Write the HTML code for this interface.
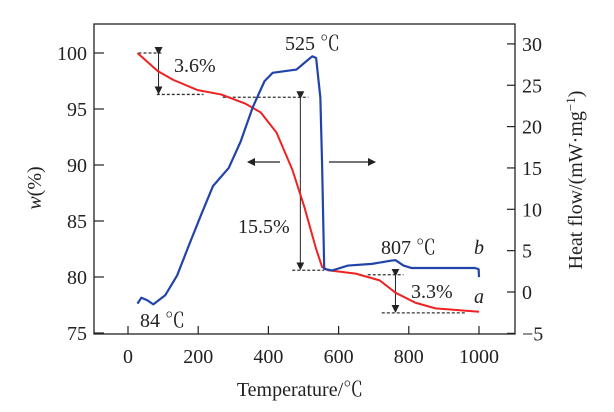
<!DOCTYPE html>
<html><head><meta charset="utf-8"><style>
body{margin:0;background:#fff}
svg text{font-family:"Liberation Serif","Noto Serif CJK SC",serif;fill:#222}
</style></head><body>
<svg width="614" height="407" viewBox="0 0 614 407">
<g id="g"></g>
</svg>
<script>
const temps=[27,84,129,197,265,333,378,423,468,502,536,553,570,649,717,762,819,876,1000];
const weight=[100,98.4,97.6,96.7,96.3,95.5,94.7,92.9,89.6,86.3,82.5,80.9,80.6,80.3,79.7,78.6,77.7,77.2,76.9];
const hfTemps=[27,38,55,72,106,140,174,208,242,287,321,355,389,412,446,480,508,525,536,548,553,559,581,627,695,751,762,785,808,876,989,999,1000];
const heatFlow=[-1.4,-0.7,-1.0,-1.5,-0.4,2.0,5.7,9.3,12.8,15,18.2,22.3,25.5,26.5,26.7,26.9,27.9,28.5,28.3,23.5,15.4,2.8,2.6,3.2,3.4,3.8,3.85,3.2,2.9,2.9,2.9,2.75,1.8];
const xTicks=[0,200,400,600,800,1000];
const yLeftTicks=[75,80,85,90,95,100];
const yRightTicks=[-5,0,5,10,15,20,25,30];
const NS="http://www.w3.org/2000/svg";
const g=document.getElementById('g');
const L=94,R=515,T=24,B=334;
const X=t=>128+t*0.351;
const YL=w=>53+(100-w)*11.2;
const YR=q=>292-q*8.27;
function mk(tag,attrs,txt){const e=document.createElementNS(NS,tag);for(const k in attrs)e.setAttribute(k,attrs[k]);if(txt!==undefined)e.textContent=txt;g.appendChild(e);return e;}
let e;
e=mk('rect',{x:L,y:T,width:R-L,height:B-T,fill:'none',stroke:'#222','stroke-width':1.3});

xTicks.forEach(t=>{
 e=mk('line',{x1:X(t),x2:X(t),y1:B,y2:B-8,stroke:'#222','stroke-width':1.2});
 
 e=mk('text',{x:X(t),y:363,'text-anchor':'middle','font-size':20},t);
 
});
yLeftTicks.forEach(w=>{
 e=mk('line',{x1:L,x2:L+10,y1:YL(w),y2:YL(w),stroke:'#222','stroke-width':1.2});
 
 e=mk('text',{x:87,y:YL(w)+7,'text-anchor':'end','font-size':20},w);
 
});
yRightTicks.forEach(q=>{
 e=mk('line',{x1:R-8,x2:R,y1:YR(q),y2:YR(q),stroke:'#222','stroke-width':1.2});
 
 e=mk('text',{x:522,y:YR(q)+7,'text-anchor':'start','font-size':20},q<0?'−'+(-q):q);
 
});
e=mk('text',{x:300,y:396,'text-anchor':'middle','font-size':20},'Temperature/℃');

e=mk('text',{transform:'translate(41,188) rotate(-90)','text-anchor':'middle','font-size':20},'');
e.innerHTML='<tspan font-style="italic">w</tspan>(%)';

e=mk('text',{transform:'translate(582,180) rotate(-90)','text-anchor':'middle','font-size':20},'');
e.innerHTML='Heat flow/(mW·mg<tspan dy="-7" font-size="13">−1</tspan><tspan dy="7">)</tspan>';

// dashed guides
const dashes=[[30,95,100],[82,215,96.3],[270,514,96.05],[468,559,80.6],[683,785,80.2],[723,960,76.8]];
dashes.forEach(d=>{
 e=mk('line',{x1:X(d[0]),x2:X(d[1]),y1:YL(d[2]),y2:YL(d[2]),stroke:'#333','stroke-width':1.3,'stroke-dasharray':'3,2'});
 
});
mk('defs',{}).innerHTML='<marker id="ah" markerWidth="8" markerHeight="8" refX="7" refY="4" orient="auto" markerUnits="userSpaceOnUse"><path d="M0,0 L8,4 L0,8 Z" fill="#222"/></marker>';
const darrows=[[87,100,96.3],[491,96.05,80.6],[762,80.2,76.8]];
darrows.forEach(a=>{
 e=mk('line',{x1:X(a[0]),x2:X(a[0]),y1:YL(a[1])+1,y2:YL(a[2])-1,stroke:'#222','stroke-width':1,'marker-start':'url(#ah)','marker-end':'url(#ah)'});
 
});
e=mk('line',{x1:280,x2:248,y1:162,y2:162,stroke:'#222','stroke-width':1.3,'marker-end':'url(#ah)'});

e=mk('line',{x1:329,x2:375,y1:162,y2:162,stroke:'#222','stroke-width':1.3,'marker-end':'url(#ah)'});

// series
e=mk('polyline',{points:temps.map((t,i)=>X(t)+','+YL(weight[i])).join(' '),fill:'none',stroke:'#ee2222','stroke-width':2,'stroke-linejoin':'round'});

e=mk('polyline',{points:hfTemps.map((t,i)=>X(t)+','+YR(heatFlow[i])).join(' '),fill:'none',stroke:'#2244aa','stroke-width':2.2,'stroke-linejoin':'round'});

// labels
const labs=[[174,72,'3.6%','label-3-6'],[285,50,'525 ℃','label-525'],[238,233,'15.5%','label-15-5'],[381,254,'807 ℃','label-807'],[411,298,'3.3%','label-3-3'],[140,327,'84 ℃','label-84']];
labs.forEach(l=>{e=mk('text',{x:l[0],y:l[1],'font-size':20},l[2]);
 });
e=mk('text',{x:474,y:254,'font-size':20,'font-style':'italic'},'b');

e=mk('text',{x:474,y:303,'font-size':20,'font-style':'italic'},'a');

</script>
</body></html>
